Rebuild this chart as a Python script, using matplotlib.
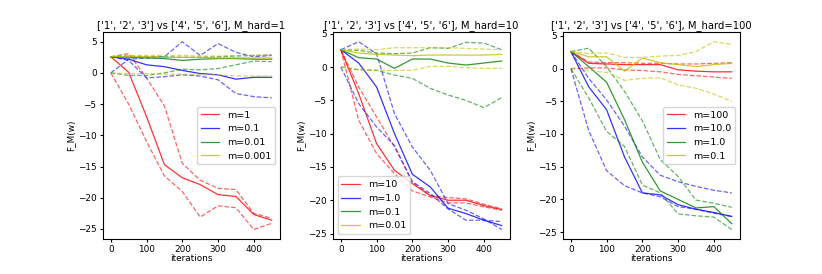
import matplotlib
matplotlib.use("Agg")
import matplotlib.pyplot as plt

iters = [0, 50, 100, 150, 200, 250, 300, 350, 400, 450]
colors = ["r", "b", "g", "y"]

# M_hard=1
labels1 = ["m=1", "m=0.1", "m=0.01", "m=0.001"]
mean1 = [
    [2.6, 0.1, -7.0, -14.7, -16.8, -17.9, -19.5, -19.8, -22.7, -23.6],
    [2.6, 2.2, 1.3, 1.0, 0.4, -0.1, -0.3, -1.0, -0.7, -0.7],
    [2.6, 2.5, 2.4, 2.3, 2.0, 2.2, 2.3, 2.3, 2.2, 2.2],
    [2.6, 2.6, 2.6, 2.5, 2.5, 2.5, 2.4, 2.4, 2.4, 2.4],
]
hi1 = [
    [2.6, 3.1, -0.8, -5.3, -14.5, -17.2, -18.5, -18.7, -22.5, -23.3],
    [0.0, 2.2, 2.4, 2.6, 5.0, 2.8, 4.7, 3.3, 2.6, 2.8],
    [2.6, 2.7, 2.6, 2.6, 2.5, 2.5, 2.6, 2.7, 2.8, 2.9],
    [2.6, 2.8, 2.8, 2.8, 2.8, 2.7, 2.7, 2.8, 2.8, 2.8],
]
lo1 = [
    [0.0, -5.0, -11.0, -16.5, -19.0, -23.1, -21.3, -21.6, -25.1, -24.1],
    [2.6, 2.0, -0.8, -0.6, -0.3, -0.5, -1.1, -3.3, -3.8, -4.0],
    [0.0, -0.4, -0.4, 0.0, 0.6, 0.5, 0.7, 1.3, 1.9, 1.8],
    [0.0, -0.1, -0.1, -0.2, -0.2, -0.3, -0.3, -0.5, -0.5, -0.5],
]

# M_hard=10
labels2 = ["m=10", "m=1.0", "m=0.1", "m=0.01"]
mean2 = [
    [2.6, -4.0, -11.5, -15.5, -17.5, -19.3, -20.0, -20.0, -20.8, -21.4],
    [2.6, 0.6, -3.0, -10.0, -16.1, -18.0, -21.2, -22.0, -23.0, -23.8],
    [2.6, 1.4, 1.2, -0.2, 1.2, 1.2, 0.6, 0.3, 0.6, 0.9],
    [2.6, 2.1, 1.9, 1.8, 1.7, 1.8, 1.8, 1.8, 1.8, 1.9],
]
hi2 = [
    [2.6, -3.0, -7.5, -12.0, -17.3, -19.3, -19.6, -19.8, -20.6, -21.3],
    [2.6, 3.8, 2.0, -7.0, -12.0, -15.5, -20.5, -21.5, -22.8, -24.4],
    [2.6, 2.5, 2.1, 2.0, 2.1, 2.9, 2.8, 3.7, 3.6, 2.6],
    [2.6, 2.7, 2.6, 2.9, 2.9, 2.9, 2.9, 2.8, 2.7, 2.6],
]
lo2 = [
    [2.6, -8.0, -13.0, -16.0, -18.6, -19.5, -20.4, -20.4, -21.0, -21.5],
    [0.0, -5.5, -9.0, -11.8, -17.2, -19.0, -21.3, -23.0, -23.0, -23.2],
    [0.0, -0.4, -0.5, -1.2, -1.7, -3.2, -4.2, -5.0, -6.1, -4.6],
    [0.0, -0.4, -0.5, -0.5, -0.5, 0.1, 0.1, -0.1, -0.2, -0.2],
]

# M_hard=100
labels3 = ["m=100", "m=10.0", "m=1.0", "m=0.1"]
mean3 = [
    [2.6, 0.8, 0.7, 0.6, 0.6, 0.6, -0.2, -0.4, -0.5, -0.5],
    [2.6, -2.8, -6.3, -13.5, -19.0, -19.3, -20.8, -21.5, -22.0, -22.6],
    [2.6, 0.3, -2.1, -7.8, -14.3, -18.7, -20.0, -21.3, -21.1, -23.7],
    [2.6, 1.8, 1.8, -0.4, 1.6, 0.9, 0.6, 0.3, 0.6, 0.8],
]
hi3 = [
    [2.6, 1.0, 0.9, 0.9, 0.8, 0.8, 0.7, 0.7, 0.8, 0.9],
    [2.6, -1.5, -4.8, -8.8, -13.5, -16.3, -17.3, -18.0, -18.6, -19.0],
    [2.6, 3.1, 0.3, -3.5, -8.0, -13.9, -16.5, -20.1, -20.6, -21.2],
    [2.6, 2.3, 2.4, 1.7, 1.7, 1.9, 2.0, 2.6, 4.1, 3.7],
]
lo3 = [
    [0.0, 0.1, 0.1, -0.2, -0.3, -0.5, -0.9, -1.1, -1.3, -1.5],
    [0.0, -9.5, -15.6, -17.9, -19.0, -19.6, -21.1, -21.5, -22.1, -22.6],
    [0.0, -4.5, -9.6, -11.9, -17.8, -19.0, -22.2, -22.5, -22.7, -24.6],
    [0.0, -0.3, -0.6, -1.8, -1.5, -1.4, -2.5, -3.0, -3.9, -5.0],
]

panels = [
    (1, labels1, mean1, hi1, lo1, "center right"),
    (10, labels2, mean2, hi2, lo2, "lower left"),
    (100, labels3, mean3, hi3, lo3, "center right"),
]

plt.rcParams["font.size"] = 6.4

fig, axes = plt.subplots(1, 3, figsize=(8.22, 2.74), dpi=100)
fig.subplots_adjust(left=0.125, right=0.9, bottom=0.128, top=0.882, wspace=0.3)
for ax, (mh, labels, mean, hi, lo, loc) in zip(axes, panels):
    for c, lab, m, h, l in zip(colors, labels, mean, hi, lo):
        ax.plot(iters, m, color=c, alpha=0.8, lw=0.9, label=lab)
        ax.plot(iters, h, color=c, alpha=0.6, lw=0.9, ls="--")
        ax.plot(iters, l, color=c, alpha=0.6, lw=0.9, ls="--")
    ax.set_title(f"['1', '2', '3'] vs ['4', '5', '6'], M_hard={mh}", fontsize=7.2, pad=3)
    ax.set_xlabel("iterations", labelpad=0)
    ax.set_ylabel("F_M(w)", labelpad=2)
    ax.set_yticks([5, 0, -5, -10, -15, -20, -25])
    ax.tick_params(length=2.5, pad=2)
    ax.legend(loc=loc, fontsize=6.8)

fig.savefig("out.png")
